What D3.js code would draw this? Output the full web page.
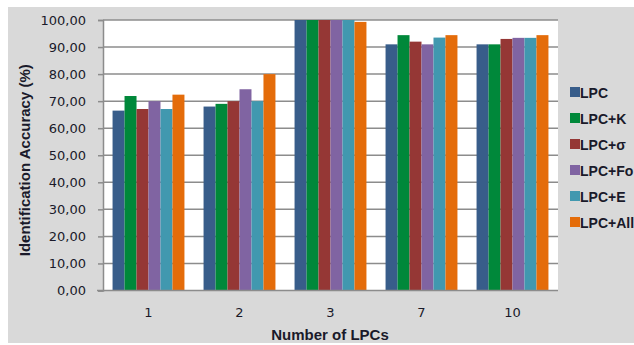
<!DOCTYPE html>
<html><head><meta charset="utf-8">
<script src="https://cdn.jsdelivr.net/npm/d3@7"></script>
<style>body{margin:0;background:#fff}</style>
</head><body>
<script>
const categories = ["1","2","3","7","10"];
const seriesNames = ["LPC","LPC+K","LPC+σ","LPC+Fo","LPC+E","LPC+All"];
const LPC    = [66.5, 68.0, 100, 91.0, 91.0];
const LPC_K  = [71.9, 69.0, 100, 94.4, 91.0];
const LPC_s  = [67.1, 70.0, 100, 92.0, 93.0];
const LPC_Fo = [70.0, 74.4, 100, 91.0, 93.4];
const LPC_E  = [67.1, 70.0, 100, 93.5, 93.4];
const LPC_All= [72.4, 80.0, 99.3, 94.4, 94.4];
const yTicks = [0,10,20,30,40,50,60,70,80,90,100];
const colors = ["#385d8a","#00883a","#953735","#8064a2","#4198af","#e46c0a"];
const series = [LPC, LPC_K, LPC_s, LPC_Fo, LPC_E, LPC_All];

(function(){
const W=634,H=345;
const svg=d3.select("body").append("svg").attr("width",W).attr("height",H);
svg.append("rect").attr("x",8).attr("y",7).attr("width",W-8).attr("height",H-9).attr("fill","#d9d9d9");
const pL=103,pR=558,pT=20,pB=290.5;
svg.append("rect").attr("x",pL).attr("y",pT).attr("width",pR-pL).attr("height",pB-pT).attr("fill","#fff");

const x=d3.scaleBand().domain(categories).range([pL,pR]).paddingInner(0.21).paddingOuter(0.105);
const xs=d3.scaleBand().domain(seriesNames).range([0,x.bandwidth()]);
const y=d3.scaleLinear().domain([0,100]).range([pB,pT]);

svg.append("g").selectAll("line").data(yTicks.filter(d=>d>0)).join("line")
  .attr("x1",pL).attr("x2",pR).attr("y1",d=>y(d)).attr("y2",d=>y(d))
  .attr("stroke","#8c8c8c").attr("stroke-width",1.5);

const g=svg.append("g");
series.forEach((vals,si)=>{
  g.append("g").selectAll("rect").data(vals).join("rect")
   .attr("x",(d,i)=>x(categories[i])+xs(seriesNames[si]))
   .attr("width",xs.bandwidth())
   .attr("y",d=>y(d)).attr("height",d=>y(0)-y(d))
   .attr("fill",colors[si]);
});

const yAxis=d3.axisLeft(y).tickValues(yTicks).tickSize(5).tickPadding(12)
  .tickFormat(d=>d3.format(".2f")(d).replace(".",","));
const ya=svg.append("g").attr("transform",`translate(${pL},0)`).call(yAxis);
ya.select(".domain").attr("stroke","#8c8c8c").attr("stroke-width",1.5);
ya.selectAll(".tick line").attr("stroke","#8c8c8c").attr("stroke-width",1.5);
ya.selectAll("text").attr("font-family","DejaVu Sans").attr("font-size",13).attr("fill","#1a1a2a");

const xAxis=d3.axisBottom(x).tickSize(0).tickPadding(17);
const xa=svg.append("g").attr("transform",`translate(0,${pB})`).call(xAxis);
xa.select(".domain").attr("stroke","#8c8c8c").attr("stroke-width",1.5).attr("d",`M${pL-6},0H${pR}`);
xa.selectAll("text").attr("font-family","DejaVu Sans").attr("font-size",13).attr("fill","#1a1a2a");

svg.append("text").attr("x",330).attr("y",340).attr("text-anchor","middle")
  .attr("font-family","Liberation Sans").attr("font-weight","bold").attr("font-size",15).attr("fill","#1a1a2a")
  .text("Number of LPCs");
svg.append("text").attr("transform",`translate(30,${(pT+pB)/2+5}) rotate(-90)`).attr("text-anchor","middle")
  .attr("font-family","Liberation Sans").attr("font-weight","bold").attr("font-size",15).attr("fill","#1a1a2a")
  .text("Identification Accuracy (%)");

const lg=svg.append("g").selectAll("g").data(seriesNames).join("g")
  .attr("transform",(d,i)=>`translate(570,${92+i*26})`);
lg.append("rect").attr("x",0).attr("y",-5).attr("width",10).attr("height",10).attr("fill",(d,i)=>colors[i]);
lg.append("text").attr("x",10).attr("y",5.5).text(d=>d)
  .attr("font-family","Liberation Sans").attr("font-weight","bold").attr("font-size",14).attr("fill","#1a1a2a");
})();
</script>
</body></html>
